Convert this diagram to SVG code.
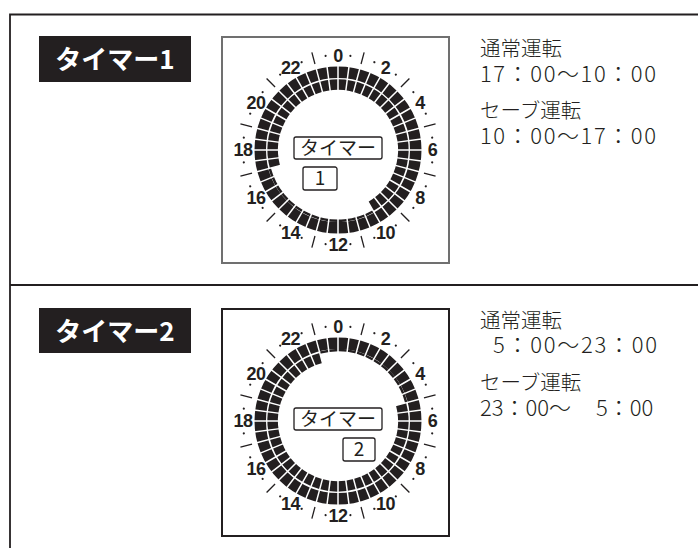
<svg xmlns="http://www.w3.org/2000/svg" width="698" height="548" viewBox="0 0 698 548">
<style>
.frame{fill:none;stroke:#231f20;stroke-width:1.8}
.lblbg{fill:#231f20}
.lbltx{font-family:"Noto Sans CJK JP","Noto Sans CJK SC",sans-serif;font-weight:700;font-size:26px;fill:#fff;text-anchor:middle}
.info{font-family:"Noto Sans CJK JP","Noto Sans CJK SC",sans-serif;font-weight:300;fill:#231f20}
.h{font-size:20.5px}
.t{font-size:22px}
.num{font-family:"Liberation Sans",Arial,sans-serif;font-weight:700;font-size:18px;fill:#231f20;text-anchor:middle;letter-spacing:-0.6px}
.cbox{fill:#fff;stroke:#231f20;stroke-width:1.3}
.ctx{font-family:"Noto Sans CJK JP","Noto Sans CJK SC",sans-serif;font-size:19px;fill:#231f20;text-anchor:middle}
.ring{fill:none;stroke:#231f20}
</style>
<defs>
  <path id="sp2" d="M0-86V-56.5M0 56.5V86" stroke="#fff" stroke-width="1.5"/>
  <g id="sp12">
    <use href="#sp2"/><use href="#sp2" transform="rotate(7.5)"/><use href="#sp2" transform="rotate(15)"/>
    <use href="#sp2" transform="rotate(22.5)"/><use href="#sp2" transform="rotate(30)"/><use href="#sp2" transform="rotate(37.5)"/>
    <use href="#sp2" transform="rotate(45)"/><use href="#sp2" transform="rotate(52.5)"/><use href="#sp2" transform="rotate(60)"/>
    <use href="#sp2" transform="rotate(67.5)"/><use href="#sp2" transform="rotate(75)"/><use href="#sp2" transform="rotate(82.5)"/>
  </g>
  <g id="spokes"><use href="#sp12"/><use href="#sp12" transform="rotate(90)"/></g>
  <path id="tk2" d="M0-89V-101M0 89V101" stroke="#231f20" stroke-width="1.3"/>
  <g id="ticks">
    <use href="#tk2" transform="rotate(15)"/><use href="#tk2" transform="rotate(45)"/><use href="#tk2" transform="rotate(75)"/>
    <use href="#tk2" transform="rotate(105)"/><use href="#tk2" transform="rotate(135)"/><use href="#tk2" transform="rotate(165)"/>
  </g>
  <g id="dt2"><circle cx="0" cy="-95" r="1.1"/><circle cx="0" cy="95" r="1.1"/></g>
  <g id="dots" fill="#231f20">
    <use href="#dt2" transform="rotate(7.5)"/><use href="#dt2" transform="rotate(22.5)"/><use href="#dt2" transform="rotate(37.5)"/>
    <use href="#dt2" transform="rotate(52.5)"/><use href="#dt2" transform="rotate(67.5)"/><use href="#dt2" transform="rotate(82.5)"/>
    <use href="#dt2" transform="rotate(97.5)"/><use href="#dt2" transform="rotate(112.5)"/><use href="#dt2" transform="rotate(127.5)"/>
    <use href="#dt2" transform="rotate(142.5)"/><use href="#dt2" transform="rotate(157.5)"/><use href="#dt2" transform="rotate(172.5)"/>
  </g>
  <g id="nums" class="num">
    <text x="0" y="-88.5">0</text>
    <text x="47.5" y="-76">2</text>
    <text x="82" y="-41">4</text>
    <text x="94.5" y="6.4">6</text>
    <text x="82" y="53.5">8</text>
    <text x="47.5" y="88.5">10</text>
    <text x="0" y="101">12</text>
    <text x="-47.5" y="88.5">14</text>
    <text x="-82" y="53.5">16</text>
    <text x="-95" y="6.4">18</text>
    <text x="-82" y="-41">20</text>
    <text x="-47.5" y="-76">22</text>
  </g>
</defs>

<g id="frame">
  <path class="frame" d="M698 14.5H10V548"/>
  <line class="frame" x1="10" y1="285" x2="698" y2="285"/>
</g>

<g id="connectors"/>

<g id="label-1">
  <rect class="lblbg" x="39" y="36" width="152" height="46"/>
  <text class="lbltx" x="115" y="69">タイマー1</text>
</g>

<g id="dial-1">
  <rect x="222" y="37" width="227" height="226" fill="#fff" stroke="#707070" stroke-width="2"/>
  <g transform="translate(338,150)">
    <circle class="ring" r="77.75" stroke-width="11.5"/>
    <path class="ring" stroke-width="10.5" d="M-63.03 16.89A65.25 65.25 0 1 1 32.63 56.51"/>
    <path class="ring" stroke-width="2.5" d="M35.38 61.27A70.75 70.75 0 0 1-68.34 18.31"/>
    <use href="#spokes"/>
    <use href="#ticks"/>
    <use href="#dots"/>
    <use href="#nums"/>
    <rect class="cbox" x="-44" y="-13" width="88" height="22" rx="2"/>
    <text class="ctx" x="0" y="5">タイマー</text>
    <rect class="cbox" x="-35" y="17" width="34" height="23" rx="2"/>
    <text class="ctx" x="-18" y="35.3">1</text>
  </g>
</g>

<g id="info-1" class="info">
  <text class="h" x="480" y="56">通常運転</text>
  <text class="t" x="480" y="82" textLength="176">17：00〜10：00</text>
  <text class="h" x="480" y="118">セーブ運転</text>
  <text class="t" x="480" y="144" textLength="176">10：00〜17：00</text>
</g>

<g id="label-2">
  <rect class="lblbg" x="39" y="308" width="152" height="45"/>
  <text class="lbltx" x="115" y="340.5">タイマー2</text>
</g>

<g id="dial-2">
  <rect x="222" y="309" width="227" height="227" fill="#fff" stroke="#231f20" stroke-width="2"/>
  <g transform="translate(338,421)">
    <circle class="ring" r="77.75" stroke-width="11.5"/>
    <path class="ring" stroke-width="10.5" d="M63.03-16.89A65.25 65.25 0 1 1-16.89-63.03"/>
    <path class="ring" stroke-width="2.5" d="M-18.31-68.34A70.75 70.75 0 0 1 68.34-18.31"/>
    <use href="#spokes"/>
    <use href="#ticks"/>
    <use href="#dots"/>
    <use href="#nums"/>
    <rect class="cbox" x="-44" y="-13" width="88" height="22" rx="2"/>
    <text class="ctx" x="0" y="5">タイマー</text>
    <rect class="cbox" x="5" y="17" width="32" height="23" rx="2"/>
    <text class="ctx" x="21" y="35.3">2</text>
  </g>
</g>

<g id="info-2" class="info">
  <text class="h" x="480" y="328">通常運転</text>
  <text class="t" x="493" y="353" textLength="164">5：00〜23：00</text>
  <text class="h" x="480" y="390">セーブ運転</text>
  <text class="t" x="480" y="416">23：00〜<tspan x="596">5：00</tspan></text>
</g>
</svg>
